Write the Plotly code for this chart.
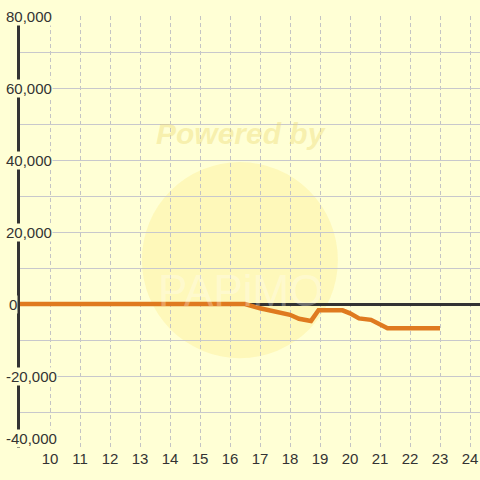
import plotly.graph_objects as go

# Data
hours = [9, 16.5, 17.0, 17.5, 18.0, 18.3, 18.7, 18.95, 19.75, 20.0, 20.3, 20.7, 21.25, 23.0]
values = [0, 0, -1200, -2100, -3000, -4100, -4700, -1750, -1750, -2600, -4000, -4400, -6750, -6750]
x_ticks = list(range(10, 25))
y_ticks = [-40000, -20000, 0, 20000, 40000, 60000, 80000]
y_labels = ["-40,000", "-20,000", "0", "20,000", "40,000", "60,000", "80,000"]

BG = "#FFFFD5"
fig = go.Figure()
fig.add_trace(go.Scatter(x=hours, y=values, mode="lines",
                         line=dict(color="#DF7A1F", width=4.5), hoverinfo="skip"))

shapes = [
    # watermark circle
    dict(type="circle", xref="paper", yref="paper", x0=0.265, x1=0.691, y0=0.208, y1=0.662,
         fillcolor="rgba(250,225,90,0.22)", line=dict(width=0), layer="below"),
    # hide horizontal gridlines left of first x tick
    dict(type="rect", xref="x", yref="paper", x0=9, x1=10.05, y0=0, y1=1,
         fillcolor=BG, line=dict(width=0), layer="between"),
]

annotations = [
    dict(text="<b><i>Powered by</i></b>", xref="paper", yref="paper", x=0.48, y=0.729,
         xanchor="center", yanchor="middle",
         showarrow=False, font=dict(size=30, color="rgba(235,215,110,0.38)", family="Liberation Sans")),
    dict(text="PAPiMO", xref="paper", yref="paper", x=0.48, y=0.365,
         xanchor="center", yanchor="middle",
         showarrow=False, font=dict(size=44, color="rgba(255,255,255,0.3)", family="Liberation Sans")),
]
ymin = min(y_ticks)
for v, lab in zip(y_ticks, y_labels):
    annotations.append(dict(text=lab, xref="paper", yref="y", x=(5 - 20) / 460 if lab != "0" else (8 - 20) / 460,
                            y=v, xanchor="left", yanchor="bottom" if v == ymin else "middle",
                            showarrow=False, bgcolor=BG, borderpad=0,
                            font=dict(size=15, color="#333333", family="Liberation Sans")))

fig.update_layout(
    width=480, height=480,
    margin=dict(l=20, r=0, t=16, b=32),
    paper_bgcolor=BG, plot_bgcolor=BG,
    showlegend=False,
    shapes=shapes, annotations=annotations,
    font=dict(family="Liberation Sans", size=15, color="#333333"),
)
fig.update_xaxes(range=[9, 24.333], tickvals=x_ticks, showgrid=True, gridcolor="#C4C4C4",
                 griddash="4px,3px", gridwidth=1, zeroline=False, showline=False, ticks="",
                 tickfont=dict(size=15, color="#333333"), fixedrange=True)
fig.update_yaxes(range=[-40000, 80000], dtick=10000, showgrid=True, gridcolor="#C8C8CC",
                 gridwidth=1, showticklabels=False, zeroline=True, zerolinecolor="#333333",
                 zerolinewidth=3, showline=True, linecolor="#333333", linewidth=3,
                 layer="below traces", ticks="", fixedrange=True)

fig.write_html("out.html", config={"displayModeBar": False},
               post_script="document.body.style.margin='0';document.body.style.background='" + BG + "';")
